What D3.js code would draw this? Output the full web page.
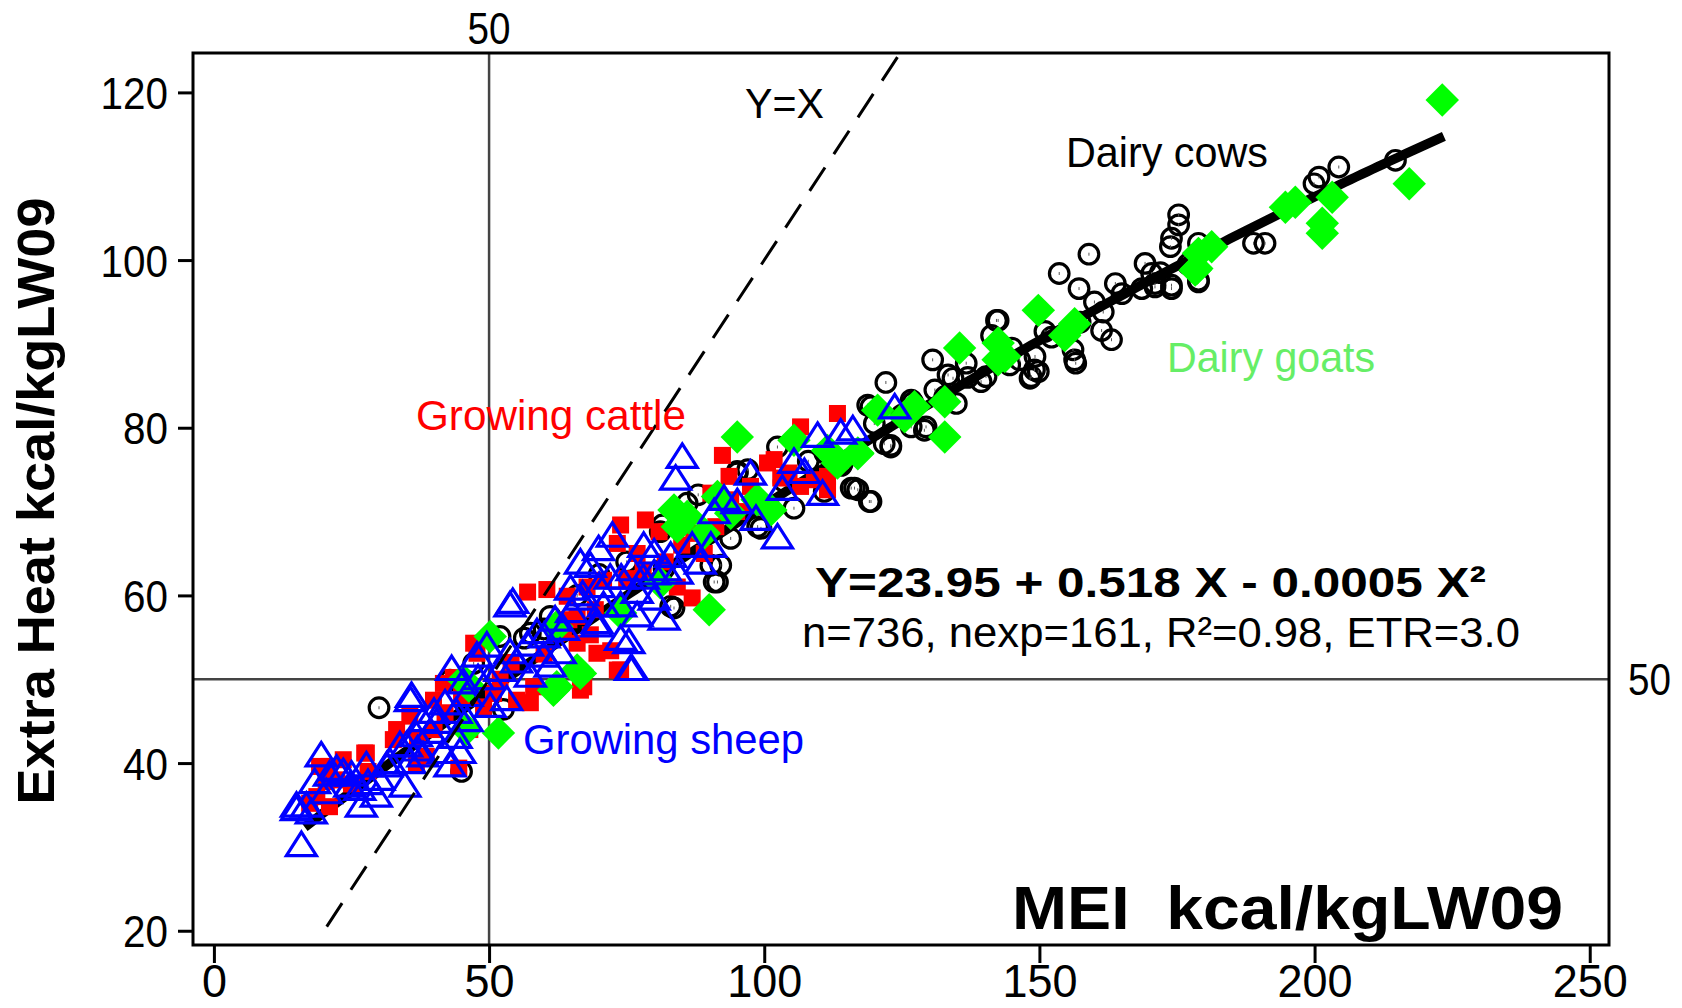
<!DOCTYPE html>
<html>
<head>
<meta charset="utf-8">
<script src="https://cdn.jsdelivr.net/npm/d3@7"></script>
<style>
  body { margin: 0; background: #fff; }
  text { font-family: "Liberation Sans", Arial, sans-serif; }
</style>
</head>
<body>
<svg id="chart"></svg>
<script>
// tick values
const xTicks = [0, 50, 100, 150, 200, 250];
const yTicks = [20, 40, 60, 80, 100, 120];

// regression Y = a + bX + cX^2
const fitCoef = [23.95, 0.518, -0.0005];
const fitRange = [16.5, 224];
const identityRange = [20.5, 130];
const refX = 50, refY = 50;

// series, [MEI, Extra heat]
const dairyCows = [
  [30,46.6],[45,39],[42.9,49.9],[47.2,51.9],[52,55.1],[57.5,55.5],[61.1,57.5],[52.6,46.4],[56.4,54.9],
  [60,56],[66,60],[70,62.5],[75,64],[81.8,63.2],
  [83,58.7],[83.6,58.5],[81.1,67.6],[81.5,68.4],[90.9,61.6],[92.1,63.6],[90.3,63.6],[91.5,61.6],[93.9,66.8],
  [86,71],[88,72],[97,75],[99.4,68],[98.8,68.2],[95.1,74.6],[95.1,74.8],[102.4,77.7],[103.6,73.6],[105.4,70.4],
  [108,76],[111,77],[110.9,72.4],[113.3,75.8],[114,75.5],[114.2,75.8],[115.8,72.8],[117,72.6],[116.4,72.8],
  [119.4,71.2],[119.1,71.2],[118.8,82.7],[121.8,78.1],[123,77.7],[123,77.9],[126.7,80.1],[129.1,79.7],
  [120,80.5],[125,81.5],[127,83],[131,84.5],[137,86],[119.4,82.5],[122.1,85.4],[126.7,83.3],[129.4,80.1],
  [132.8,83.7],[134.9,82.9],[130.6,88.1],[136.7,87.7],[133.4,86.3],[134.3,85.9],[139.4,85.5],[140.3,86.1],
  [141.3,91],[142.2,92.8],[142.5,92.8],[144.6,87.5],[145,89.5],[146.4,88.1],[148.3,85.9],[148.5,86.1],
  [149.1,86.9],[149.8,86.7],[149.2,88.5],[151,91.5],[152.2,90.8],[153.6,98.4],[156.1,89.3],[156.6,87.7],
  [156.4,88.1],[157.4,92.6],[157.2,96.6],[159,100.7],[160,95],[161.3,91.6],[161.6,93.8],[163.1,90.5],
  [163.8,97.2],[165,96],[168.6,96.6],[169.2,99.6],[170.4,98.4],[171,96.8],[171,97.2],[172,98.5],[174,97],
  [174,96.6],[174,102.6],[173.8,101.6],[175.3,105.4],[175.3,104.2],[177,99.5],[178.9,97.4],[178.9,97.6],
  [178.9,102],[188.9,102],[191,102],[199.9,109.1],[200.8,109.9],[204.4,111.1],[214.7,111.9]
];

const growingCattle = [
  [23.5,40.4],[27.4,41.2],[19.2,39.6],[18.7,36],[20.4,37.8],[35.6,45.6],[32.6,42.8],[39.9,47.5],[41.7,49.5],
  [43.5,50.2],[46.5,44],[47.2,54.3],[47.8,53.1],[55,47.5],[57.5,47.2],[58.1,49.1],[66,54.3],[69.6,53.1],
  [73.9,51.1],[66.6,48.7],[36.8,40],[38.6,40.8],[49,46.7],[50.8,48.3],[63.5,55.6],[68.4,55.3],[72.1,53.4],
  [33.2,44],[21,34.8],[17.4,35.2],[22.3,38],[28,39],[25,37.5],[37,43],[40,44],[42,46],[45,48],[52,50],
  [54,52],[60,53],[57,60.4],[44.5,39.4],[27.7,41.2],[20.9,39.6],
  [113.3,81.7],[106.6,80.1],[92.4,76.7],[93.6,74.2],[100.6,75.8],[101.8,76.2],[104.5,74.6],[106.6,73],
  [109.1,73.8],[111.5,74.2],[111.5,72.6],[73.9,68.4],[78.4,69],[80.9,67.6],[73.3,66.2],[76.9,65],
  [67.8,61],[70.8,61.8],[69.3,58.3],[86.9,59.7],[84.2,61],[87.2,67.4],[91.2,68.2],[89.1,65],[64.2,59.9],
  [60.5,60.7],[62.3,55.5],[67.2,49.1],[73.3,51.1],[93.9,71.4],[97.5,73],[90.3,72.2],[64.5,57.1],[66,57.5],
  [75,62],[78,63],[82,64],[85,66],[95,70],[98,71],[103,74]
];

const dairyGoats = [
  [223.2,119.1],[217.2,109.1],[203.2,107.5],[201.4,104.4],[201.4,103.2],[196.5,106.9],[194.7,106.3],
  [181.3,101.6],[178.9,100.8],[178.3,98.8],[178.6,99],[149.8,94],[156.4,92.4],[154.6,91],[142.5,90.1],
  [142.5,88.1],[143.7,88.5],[135.5,89.5],[132.8,83.1],[132.8,78.9],[120.6,82.1],[125.5,81.3],[127.3,82.5],
  [117,77],[113.3,75.8],[95.1,78.9],[83.6,70.2],[86,69.4],[84.2,68.2],[90,58.3],[105.4,78.5],[117,76.9],
  [111.5,77.3],[98.7,71.4],[101.2,70.2],[91.5,71.8],[93.9,69.8],[89.1,67.4],[66.6,50.7],[62.3,49.1],
  [81.1,61.5],[73.9,57.9],[51.7,43.6],[50.2,55.1],[45.3,49.9],[45.9,44],[61.7,48.7],[66,51.1],[62.3,56.3],
  [46.3,49.2]
];

const growingSheep = [
  [15.9,30.1],[15,34.8],[19.5,40.8],[18.3,37.6],[17.7,34],[22.3,39.2],[23.5,38.8],[24.7,37.2],[26.8,34.8],
  [27.7,39.6],[29.5,36],[26.5,36.8],[20.4,36.4],[34.7,37.2],[35.9,47.9],[33.8,42],[36.8,43.2],[39.3,43.6],
  [40.5,44.8],[41.7,41.2],[42.9,39.6],[44.7,41.2],[43.2,51.1],[45.3,49.5],[47.8,52.7],[49.6,53.9],
  [53.8,53.1],[50.2,46.7],[53.2,47.5],[57.5,50.3],[59.9,52.7],[58.7,55.5],[62.9,53.1],[53.8,58.7],
  [69.6,56.3],[75.7,51.1],[73.9,54.7],[38,40.8],[35.6,40],[31.4,39.6],[16.8,34.8],[15,34.4],
  [54.3,59.1],[35.7,47.4],[38,45],[40,46],[42,47],[44,46],[46,48],[48,50],[50,50],[52,51],[55,52],[57,54],
  [60,55],[62,57],[65,58],[67,60],[70,61],[72,62],[74,62],[76,63],[78,62],[80,62.5],[82,63],[44,43],
  [46,45],[30,38],[32,40],[25,38.5],[21,38.5],[28,37.5],[35,42],[37,41.5],
  [85.1,76.4],[83.9,73.8],[72.4,67],[66.6,63.8],[69.9,65.4],[68.4,63.4],[78.1,65.8],[80,65],[83,64.6],
  [86.9,65.8],[90.3,65.8],[88.4,63.8],[84.2,62.6],[81.8,57.1],[75.4,54.3],[76,51.1],[76.9,57.5],
  [73.9,58.7],[66.6,59.5],[69.6,56.7],[63.5,55.9],[61.1,51.5],[97.5,74.4],[103.3,72.6],[105.4,75.8],
  [109.7,78.9],[113.9,79.3],[116.1,79.7],[110.6,72],[102.4,66.8],[98.5,69],[92.7,71.4],[95.1,71],
  [90.9,69.8],[123.7,82.3],[107.3,74.6],[76.9,60.3],[80,59.5],[64.8,60.7],[70.8,58.7]
];

// setting up svg
const w = 1682, h = 1008;
const frame = { left: 193, top: 53, right: 1609, bottom: 945 };
const svg = d3.select("#chart").attr("width", w).attr("height", h);

const x = d3.scaleLinear().domain([-3.8, 253.5]).range([frame.left, frame.right]);
const y = d3.scaleLinear().domain([18.3, 124.7]).range([frame.bottom, frame.top]);

svg.append("defs").append("clipPath").attr("id", "plot")
  .append("rect")
    .attr("x", frame.left).attr("y", frame.top)
    .attr("width", frame.right - frame.left).attr("height", frame.bottom - frame.top);

// reference lines at 50
svg.append("line")
    .attr("x1", x(refX)).attr("x2", x(refX))
    .attr("y1", frame.top).attr("y2", frame.bottom)
    .attr("stroke", "#444").attr("stroke-width", 2.5);
svg.append("line")
    .attr("x1", frame.left).attr("x2", frame.right)
    .attr("y1", y(refY)).attr("y2", y(refY))
    .attr("stroke", "#444").attr("stroke-width", 2.5);

// dairy cows: open circles
const cows = svg.append("g");
cows.selectAll("circle")
  .data(dairyCows)
  .join("circle")
    .attr("cx", d => x(d[0])).attr("cy", d => y(d[1]))
    .attr("r", 9.8)
    .attr("fill", "none").attr("stroke", "#000").attr("stroke-width", 3.2);
cows.selectAll("line")
  .data(dairyCows)
  .join("line")
    .attr("x1", d => x(d[0])).attr("x2", d => x(d[0]))
    .attr("y1", d => y(d[1]) - 1.5).attr("y2", d => y(d[1]) + 1.5)
    .attr("stroke", "#555").attr("stroke-width", 1);

// fitted curve
const fit = v => fitCoef[0] + fitCoef[1] * v + fitCoef[2] * v * v;
const fitPts = d3.range(fitRange[0], fitRange[1] + 0.01, 1).map(v => [v, fit(v)]);
svg.append("path")
    .datum(fitPts)
    .attr("d", d3.line().x(d => x(d[0])).y(d => y(d[1])))
    .attr("fill", "none").attr("stroke", "#000").attr("stroke-width", 9.5);

// growing cattle: red squares
svg.append("g").selectAll("rect")
  .data(growingCattle)
  .join("rect")
    .attr("x", d => x(d[0]) - 8.5).attr("y", d => y(d[1]) - 8.5)
    .attr("width", 17).attr("height", 17)
    .attr("fill", "#ff0000");

// dairy goats: green diamonds
const diamond = d3.symbol(d3.symbolSquare, 560);
svg.append("g").selectAll("path")
  .data(dairyGoats)
  .join("path")
    .attr("d", diamond)
    .attr("transform", d => `translate(${x(d[0])},${y(d[1])}) rotate(45)`)
    .attr("fill", "#00ff00");

// growing sheep: open triangles
svg.append("g").selectAll("path")
  .data(growingSheep)
  .join("path")
    .attr("d", "M0,-14L15,9.5L-15,9.5Z")
    .attr("transform", d => `translate(${x(d[0])},${y(d[1])})`)
    .attr("fill", "none").attr("stroke", "#0000ff").attr("stroke-width", 3.2);

// Y = X dashed line
svg.append("line")
    .attr("clip-path", "url(#plot)")
    .attr("x1", x(identityRange[0])).attr("y1", y(identityRange[0]))
    .attr("x2", x(identityRange[1])).attr("y2", y(identityRange[1]))
    .attr("stroke", "#000").attr("stroke-width", 3)
    .attr("stroke-dasharray", "28,16");

// frame
svg.append("rect")
    .attr("x", frame.left).attr("y", frame.top)
    .attr("width", frame.right - frame.left).attr("height", frame.bottom - frame.top)
    .attr("fill", "none").attr("stroke", "#000").attr("stroke-width", 3);

// axes
const yAxis = svg.append("g")
    .attr("transform", `translate(${frame.left},0)`)
    .call(d3.axisLeft(y).tickValues(yTicks).tickSize(15).tickPadding(10).tickFormat(d3.format("d")));
const xAxis = svg.append("g")
    .attr("transform", `translate(0,${frame.bottom})`)
    .call(d3.axisBottom(x).tickValues(xTicks).tickSize(18).tickPadding(1).tickFormat(d3.format("d")));
[xAxis, yAxis].forEach(g => {
  g.select(".domain").remove();
  g.selectAll(".tick line").attr("stroke", "#000").attr("stroke-width", 3);
});
yAxis.selectAll(".tick text")
    .attr("fill", "#000").attr("dy", "0.36em")
    .style("font-size", "45px")
    .attr("textLength", d => String(d).length * 22.5).attr("lengthAdjust", "spacingAndGlyphs");
xAxis.selectAll(".tick text")
    .attr("fill", "#000").attr("dy", "0.71em")
    .style("font-size", "46px")
    .attr("textLength", d => String(d).length * 25).attr("lengthAdjust", "spacingAndGlyphs");

// labels for the reference lines
svg.append("text").attr("x", x(refX)).attr("y", 44)
    .attr("text-anchor", "middle").style("font-size", "44px")
    .attr("textLength", 43).attr("lengthAdjust", "spacingAndGlyphs").text("50");
svg.append("text").attr("x", 1628).attr("y", y(refY) + 16)
    .style("font-size", "44px")
    .attr("textLength", 43).attr("lengthAdjust", "spacingAndGlyphs").text("50");

// annotations
function note(txt, px, py, len, size, color, weight) {
  return svg.append("text")
    .attr("x", px).attr("y", py)
    .attr("textLength", len).attr("lengthAdjust", "spacingAndGlyphs")
    .attr("fill", color)
    .style("font-size", size + "px")
    .style("font-weight", weight || "normal")
    .text(txt);
}
note("Y=X", 745, 118, 79, 42, "#000");
note("Dairy cows", 1066, 167, 202, 42, "#000");
note("Dairy goats", 1167, 372, 208, 42, "#66ee66");
note("Growing cattle", 416, 430, 270, 42, "#ff0000");
note("Growing sheep", 523, 754, 281, 42, "#0000ff");
note("Y=23.95 + 0.518 X - 0.0005 X\u00b2", 815, 597, 671, 43, "#000", "bold");
note("n=736, nexp=161, R\u00b2=0.98, ETR=3.0", 802, 647, 718, 42, "#000");
note("MEI\u00a0 kcal/kgLW09", 1012, 929, 551, 62, "#000", "bold");

// y axis title
svg.append("text")
    .attr("transform", "translate(54,501) rotate(-90)")
    .attr("text-anchor", "middle")
    .attr("textLength", 607).attr("lengthAdjust", "spacingAndGlyphs")
    .style("font-size", "52px").style("font-weight", "bold")
    .text("Extra Heat kcal/kgLW09");
</script>
</body>
</html>
